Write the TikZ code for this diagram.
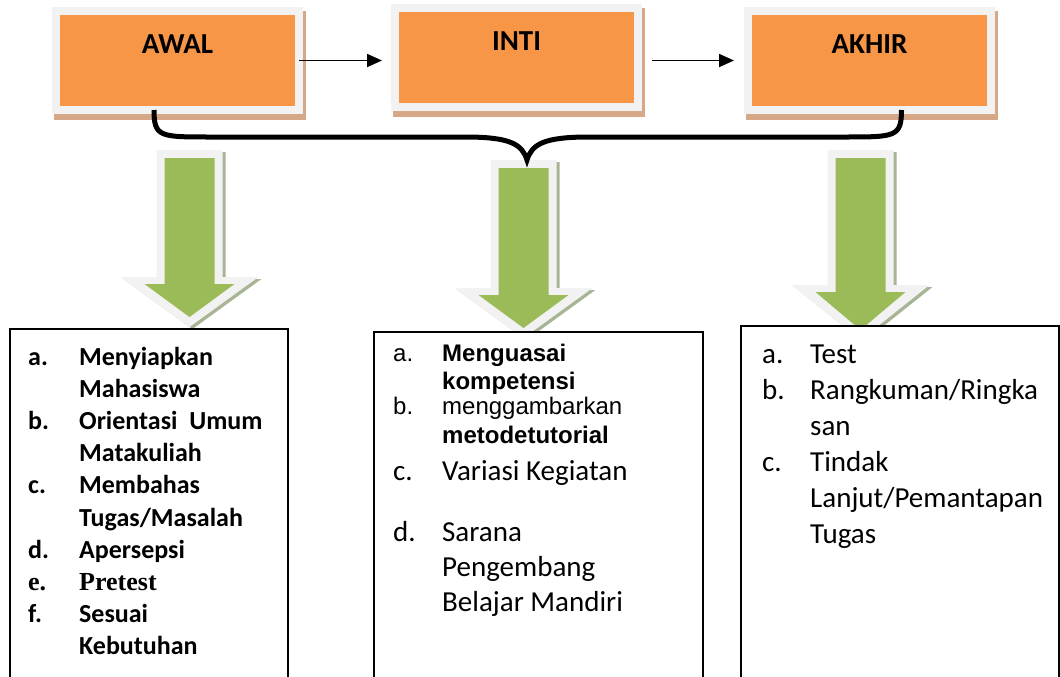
\documentclass[tikz,border=0pt]{standalone}
\usepackage{fontspec}
\setmainfont{Carlito}
\newfontfamily\calibri{Carlito}
\newfontfamily\arial{Liberation Sans}
\newfontfamily\tnr{Liberation Serif}
\usetikzlibrary{positioning, arrows.meta, backgrounds}

\definecolor{stageorange}{HTML}{F79646}
\definecolor{rimgray}{HTML}{F2F2F2}
\definecolor{stageshadow}{HTML}{D6A888}
\definecolor{flowgreen}{HTML}{9BBB59}
\definecolor{flowshadow}{HTML}{A8B594}

\newcommand{\lbl}[2][51pt]{\makebox[#1][l]{#2}}
\newcommand{\cont}[1][51pt]{\hspace*{#1}}
\newcommand{\arialsize}{\arial\fontsize{24}{28}\selectfont}
% green block arrow: centre x, top, head base, tip
\newcommand{\flowarrow}[4]{%
  \fill[flowshadow, shift={(3,2)}] (#1-33,#2-8) -- (#1+33,#2-8) -- (#1+33,#3-7) -- (#1+69,#3-7) -- (#1,#4+10) -- (#1-69,#3-7) -- (#1-33,#3-7) -- cycle;
  \fill[rimgray] (#1-33,#2-8) -- (#1+33,#2-8) -- (#1+33,#3-7) -- (#1+69,#3-7) -- (#1,#4+10) -- (#1-69,#3-7) -- (#1-33,#3-7) -- cycle;
  \fill[flowgreen] (#1-25,#2) -- (#1+25,#2) -- (#1+25,#3) -- (#1+45,#3) -- (#1,#4) -- (#1-45,#3) -- (#1-25,#3) -- cycle;
}

\tikzset{
  stagebox/.style={rectangle, fill=stageorange, draw=rimgray, line width=8pt, outer sep=0pt,
    minimum width=243pt, text height=43pt, text depth=56pt, inner ysep=0pt,
    font=\calibri\bfseries\fontsize{29}{35}\selectfont},
  listbox/.style={rectangle, draw=black, line width=1.5pt, fill=white, anchor=north west, inner sep=0pt},
  listtext/.style={anchor=base west, align=flush left, inner sep=0pt, text width=#1},
  link/.style={-{Triangle[length=15pt,width=13pt]}, line width=1.8pt},
  brace/.style={line width=5pt},
}

\begin{document}
\begin{tikzpicture}[x=1pt, y=-1pt]
  \useasboundingbox (0,0) rectangle (1060,677);
  \clip (0,0) rectangle (1060,677);

  \node[stagebox] (awal) at (177.5,60.5) {AWAL};
  \node[stagebox, right=96pt of awal, yshift=3pt] (inti) {INTI};
  \node[stagebox, right=110pt of inti, yshift=-3pt] (akhir) {AKHIR};

  \begin{scope}[on background layer]
    \fill[white] (0,0) rectangle (1060,677);
    \foreach \n in {awal,inti,akhir}
      \fill[stageshadow] ([shift={(-2,0)}]\n.north west) rectangle ([shift={(7,10)}]\n.south east);
  \end{scope}

  \draw[link, shorten >=13pt] (awal.east) -- (inti.west |- awal.east);
  \draw[link, shorten <=14pt, shorten >=14pt] (inti.east |- akhir.west) -- (akhir.west);

  \foreach \cx/\ty/\by/\py in {189.5/158/284/317, 523.5/168/295/328, 860.5/158/292/330}
    {\flowarrow{\cx}{\ty}{\by}{\py}}

  \coordinate (braceL) at ([xshift=-23.5pt]awal.south);
  \coordinate (braceM) at (527,160);
  \coordinate (braceR) at ([xshift=32pt]akhir.south);
  \draw[brace] (braceL) .. controls +(0,27) and +(-50,0) .. (210,137) -- (465,137)
    .. controls +(45,0) and +(-5,-16) .. (braceM)
    .. controls +(5,-16) and +(-45,0) .. (589,137) -- (845,137)
    .. controls +(50,0) and +(0,27) .. (braceR);

  \node[listbox, minimum width=278pt, minimum height=360pt] (awallist) at (9,328) {};
  \node[listbox, minimum width=329pt, minimum height=360pt] (intilist) at (373,331) {};
  \node[listbox, minimum width=318pt, minimum height=360pt] (akhirlist) at (740,325) {};

  \node[listtext=255pt, font=\calibri\bfseries\fontsize{26}{32.2}\selectfont] (awalitems)
    at ([shift={(19,37)}]awallist.north west) {\lineskiplimit=-100pt
    \lbl{a.}Menyiapkan\\
    \cont Mahasiswa\\
    \lbl{b.}Orientasi\ \ Umum\\
    \cont Matakuliah\\
    \lbl{c.}Membahas\\
    \cont Tugas/Masalah\\
    \lbl{d.}Apersepsi\\
    {\tnr\lbl{e.}Pretest}\\
    \lbl{f.}Sesuai\\
    \cont Kebutuhan};

  \node[listtext=300pt, font=\calibri\fontsize{29}{28}\selectfont] (intiitems)
    at ([shift={(20,30)}]intilist.north west) {\lineskiplimit=-100pt
    {\arialsize\lbl[49pt]{a.}\textbf{Menguasai}}\\
    {\arialsize\cont[49pt]\textbf{kompetensi}}\\[-3pt]
    {\arialsize\lbl[49pt]{b.}menggambarkan}\\[1pt]
    {\arialsize\cont[49pt]\textbf{metodetutorial}}\\[9pt]
    \lbl[49pt]{c.}Variasi Kegiatan\\[33pt]
    \lbl[49pt]{d.}Sarana\\[7pt]
    \cont[49pt]Pengembang\\[7pt]
    \cont[49pt]Belajar Mandiri};

  \node[listtext=290pt, font=\calibri\fontsize{29}{36}\selectfont] (akhiritems)
    at ([shift={(22,38)}]akhirlist.north west) {\lineskiplimit=-100pt
    \lbl[48pt]{a.}Test\\
    \lbl[48pt]{b.}Rangkuman/Ringka\\
    \cont[48pt]san\\
    \lbl[48pt]{c.}Tindak\\
    \cont[48pt]Lanjut/Pemantapan\\
    \cont[48pt]Tugas};
\end{tikzpicture}
\end{document}
